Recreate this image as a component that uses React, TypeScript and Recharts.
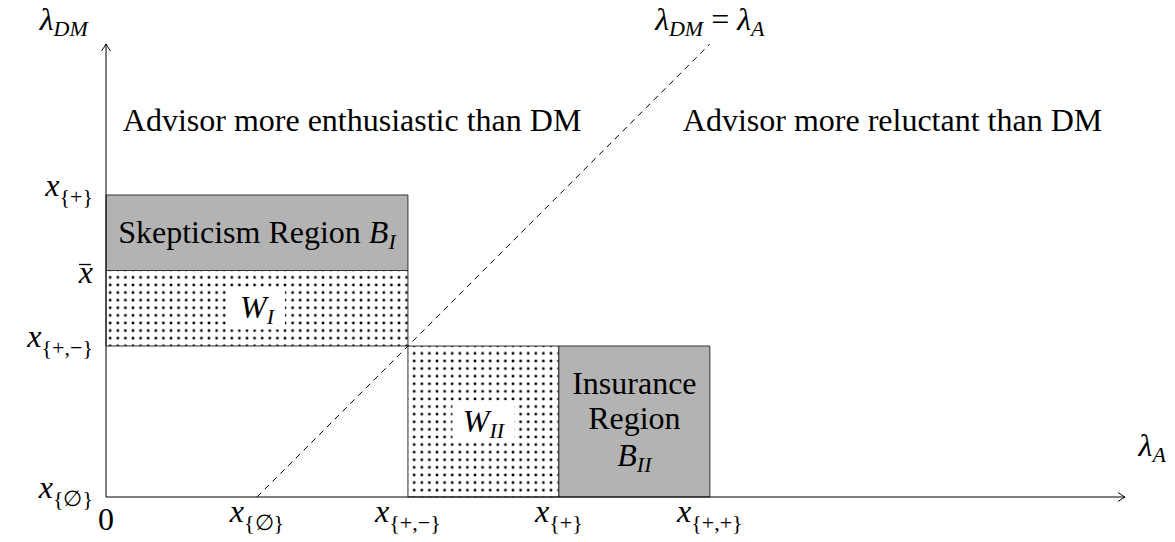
import { ComposedChart, XAxis, YAxis, Line, ReferenceArea, ReferenceLine, ReferenceDot } from 'recharts'

const FONT = 'Liberation Serif, DejaVu Serif, serif'

// axis ticks (in units of the diagram)
const xTicks = [0, 1, 2, 3, 4]
const xTickSubs = ['', '∅', '+,−', '+', '+,+']
const yTicks = [0, 1, 1.5, 2]
const yTickSubs = ['∅', '+,−', '', '+']

// shaded / dotted regions
const regions = [
  { id: 'BI', x1: 0, x2: 2, y1: 1.5, y2: 2, kind: 'gray' },
  { id: 'WI', x1: 0, x2: 2, y1: 1, y2: 1.5, kind: 'dots' },
  { id: 'WII', x1: 2, x2: 3, y1: 0, y2: 1, kind: 'dots' },
  { id: 'BII', x1: 3, x2: 4, y1: 0, y2: 1, kind: 'gray' },
]

// the 45 degree line
const diagonal = [
  { x: 1, y: 0 },
  { x: 4, y: 3 },
]

// text annotations
const notes = [
  { x: 1.63, y: 2.5, text: 'Advisor more enthusiastic than DM' },
  { x: 5.21, y: 2.5, text: 'Advisor more reluctant than DM' },
]

const txt = { fontFamily: FONT, fontSize: 32 }

const Sub = ({ children, dy = 8 }: { children: any; dy?: number }) => (
  <tspan style={{ fontSize: 22 }} dy={dy}>{children}</tspan>
)

function XTick(props: any) {
  const { x, y, payload } = props
  const i = xTicks.indexOf(payload.value)
  if (i === 0) {
    return (
      <text x={x} y={y + 8} textAnchor="middle" style={txt} fill="#000">0</text>
    )
  }
  return (
    <text x={x} y={y} textAnchor="middle" style={txt} fill="#000">
      <tspan style={{ fontStyle: 'italic' }}>x</tspan>
      <Sub>{'{' + xTickSubs[i] + '}'}</Sub>
    </text>
  )
}

function YTick(props: any) {
  const { x, y, payload } = props
  const i = yTicks.indexOf(payload.value)
  if (yTickSubs[i] === '') {
    return (
      <g>
        <text x={x} y={y + 12} textAnchor="end" style={{ ...txt, fontStyle: 'italic' }} fill="#000">x</text>
        <line x1={x - 14} x2={x - 2} y1={y - 6} y2={y - 6} stroke="#000" strokeWidth={1.3} />
      </g>
    )
  }
  return (
    <text x={x} y={y + 1} textAnchor="end" style={txt} fill="#000">
      <tspan style={{ fontStyle: 'italic' }}>x</tspan>
      <Sub>{'{' + yTickSubs[i] + '}'}</Sub>
    </text>
  )
}

function Arrow(props: any) {
  const { x1, y1, x2, y2 } = props
  const a = Math.atan2(y2 - y1, x2 - x1)
  const rot = (a * 180) / Math.PI
  return (
    <g>
      <line x1={x1} y1={y1} x2={x2} y2={y2} stroke="#000" strokeWidth={1} />
      <path
        d="M -7 -4.5 Q -2 -1 0 0 Q -2 1 -7 4.5"
        transform={`translate(${x2},${y2}) rotate(${rot})`}
        fill="none"
        stroke="#000"
        strokeWidth={1}
      />
    </g>
  )
}

function regionLabel(id: string) {
  return function Label(props: any) {
    const { x, y, width, height } = props.viewBox
    const cx = x + width / 2
    const cy = y + height / 2
    const base = { style: txt, fill: '#000', textAnchor: 'middle' as const }
    const it = { fontStyle: 'italic' as const }
    const itSub = { fontStyle: 'italic' as const, fontSize: 22 }
    if (id === 'BI') {
      return (
        <text x={cx} y={cy + 10} {...base}>
          Skepticism Region <tspan style={it}>B</tspan>
          <tspan style={itSub} dy={6}>I</tspan>
        </text>
      )
    }
    if (id === 'BII') {
      return (
        <g>
          <text x={cx} y={cy - 28} {...base}>Insurance</text>
          <text x={cx} y={cy + 7} {...base}>Region</text>
          <text x={cx} y={cy + 44} {...base}>
            <tspan style={it}>B</tspan>
            <tspan style={itSub} dy={6}>II</tspan>
          </text>
        </g>
      )
    }
    const sub = id === 'WI' ? 'I' : 'II'
    const w = id === 'WI' ? 56 : 62
    return (
      <g>
        <rect x={cx - w / 2} y={cy - 21} width={w} height={42} fill="#fff" />
        <text x={cx} y={cy + 10} {...base}>
          <tspan style={it}>W</tspan>
          <tspan style={itSub} dy={6}>{sub}</tspan>
        </text>
      </g>
    )
  }
}

const textShape = (text: string) => (props: any) => (
  <text x={props.cx} y={props.cy + 11} textAnchor="middle" style={txt} fill="#000">
    {text}
  </text>
)

const lambdaShape = (sub: string, extra?: boolean) => (props: any) => (
  <text x={props.cx} y={props.cy} textAnchor="middle" style={txt} fill="#000">
    <tspan style={{ fontStyle: 'italic' }}>λ</tspan>
    <tspan style={{ fontStyle: 'italic', fontSize: 22 }} dy={6}>{sub}</tspan>
    {extra && (
      <>
        <tspan dy={-6}> = </tspan>
        <tspan style={{ fontStyle: 'italic' }}>λ</tspan>
        <tspan style={{ fontStyle: 'italic', fontSize: 22 }} dy={6}>A</tspan>
      </>
    )}
  </text>
)

export default function App() {
  return (
    <div style={{ position: 'absolute', left: 0, top: 0, background: '#fff' }}>
      <ComposedChart width={1175} height={542} margin={{ top: 44, right: 50, bottom: 0, left: 0 }}>
        <defs>
          <pattern id="dots" width={7.6} height={7.6} patternUnits="userSpaceOnUse">
            <rect width={7.6} height={7.6} fill="#fff" />
            <circle cx={3.8} cy={3.8} r={1.4} fill="#000" />
          </pattern>
        </defs>
        <XAxis
          type="number"
          dataKey="x"
          domain={[0, 6.75]}
          ticks={xTicks}
          allowDataOverflow
          axisLine={false}
          tickLine={false}
          tickSize={0}
          tickMargin={25}
          height={45}
          tick={XTick}
          interval={0}
        />
        <YAxis
          type="number"
          dataKey="y"
          domain={[0, 3]}
          ticks={yTicks}
          allowDataOverflow
          axisLine={false}
          tickLine={false}
          tickSize={0}
          tickMargin={13}
          width={106}
          tick={YTick}
          interval={0}
        />
        {regions.map((r) => (
          <ReferenceArea
            key={r.id}
            x1={r.x1}
            x2={r.x2}
            y1={r.y1}
            y2={r.y2}
            fill={r.kind === 'gray' ? '#b3b3b3' : 'url(#dots)'}
            fillOpacity={1}
            stroke="#333"
            strokeWidth={1}
            label={{ content: regionLabel(r.id) }}
          />
        ))}
        <Line
          data={diagonal}
          dataKey="y"
          type="linear"
          stroke="#000"
          strokeWidth={1}
          strokeDasharray="6 5"
          dot={false}
          activeDot={false}
          isAnimationActive={false}
        />
        <ReferenceLine segment={[{ x: 0, y: 0 }, { x: 6.75, y: 0 }]} ifOverflow="visible" shape={Arrow} />
        <ReferenceLine segment={[{ x: 0, y: 0 }, { x: 0, y: 3 }]} ifOverflow="visible" shape={Arrow} />
        {notes.map((n) => (
          <ReferenceDot key={n.text} x={n.x} y={n.y} r={0} ifOverflow="visible" shape={textShape(n.text)} />
        ))}
        <ReferenceDot x={-0.28} y={3.09} r={0} ifOverflow="visible" shape={lambdaShape('DM')} />
        <ReferenceDot x={4} y={3.09} r={0} ifOverflow="visible" shape={lambdaShape('DM', true)} />
        <ReferenceDot x={6.93} y={0.27} r={0} ifOverflow="visible" shape={lambdaShape('A')} />
      </ComposedChart>
    </div>
  )
}
